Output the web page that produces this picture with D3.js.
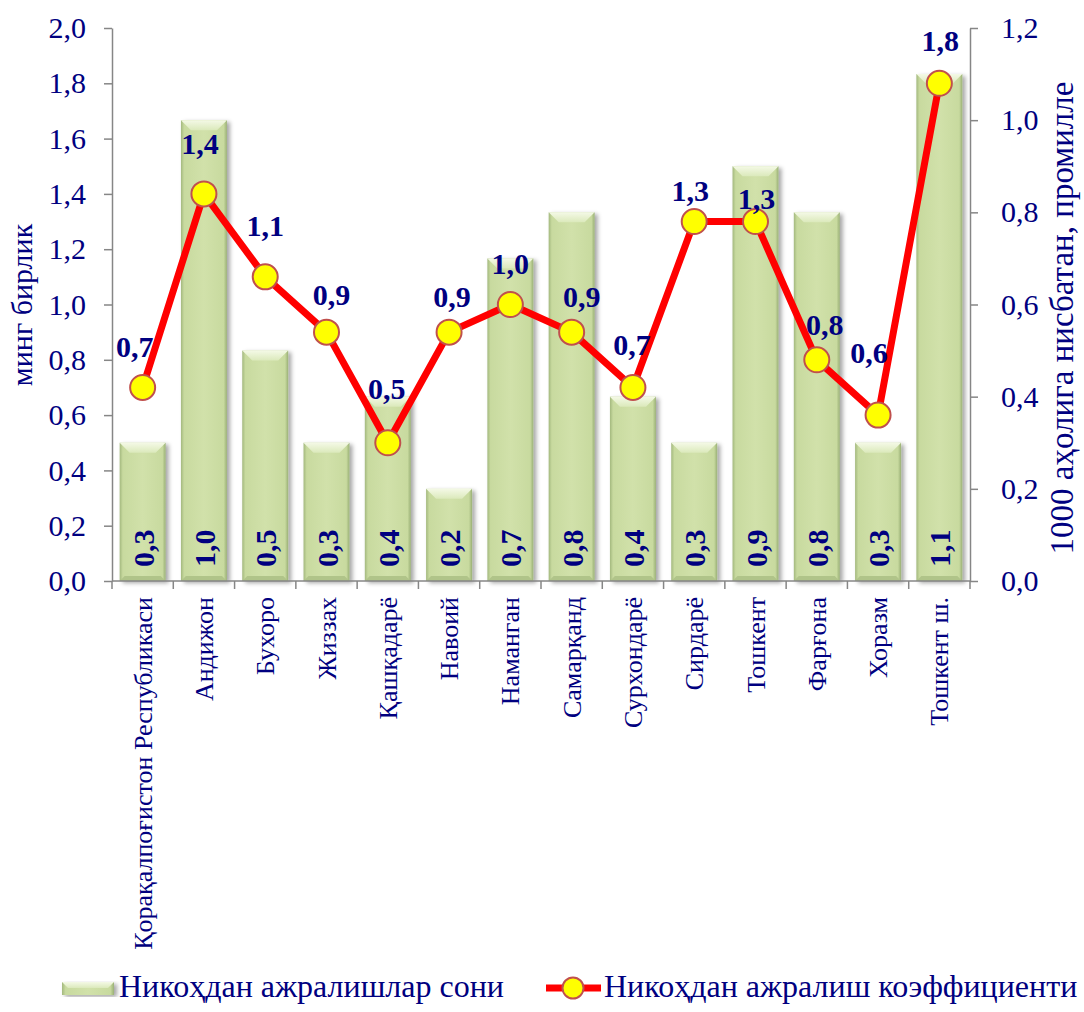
<!DOCTYPE html>
<html>
<head>
<meta charset="utf-8">
<script src="https://cdn.jsdelivr.net/npm/d3@7"></script>
<style>
  body { margin: 0; background: #fff; }
  svg { display: block; font-family: "Liberation Serif", "Times New Roman", serif; }
</style>
</head>
<body>
<svg id="chart" width="1084" height="1012"></svg>
<script>
// DATA
const regions = [
  "Қорақалпоғистон Республикаси", "Андижон", "Бухоро", "Жиззах", "Қашқадарё",
  "Навоий", "Наманган", "Самарқанд", "Сурхондарё", "Сирдарё", "Тошкент",
  "Фарғона", "Хоразм", "Тошкент ш."
];
const divorces = [0.3, 1.0, 0.5, 0.3, 0.4, 0.2, 0.7, 0.8, 0.4, 0.3, 0.9, 0.8, 0.3, 1.1];
const divorceRate = [0.7, 1.4, 1.1, 0.9, 0.5, 0.9, 1.0, 0.9, 0.7, 1.3, 1.3, 0.8, 0.6, 1.8];
const leftTicks = [0, 0.2, 0.4, 0.6, 0.8, 1.0, 1.2, 1.4, 1.6, 1.8, 2.0];
const rightTicks = [0, 0.2, 0.4, 0.6, 0.8, 1.0, 1.2];
const seriesNames = ["Никоҳдан ажралишлар сони", "Никоҳдан ажралиш коэффициенти"];
const leftTitle = "минг бирлик";
const rightTitle = "1000 аҳолига нисбатан, промилле";

// label nudges for the line labels (dx, baseline dy from point)
const lineLabelShift = [[-8, -30], [-4, -40], [0, -41], [5, -27], [-1, -44], [3, -25], [0, -31],
  [10, -25], [-1, -32], [-4, -21], [1, -13], [8, -25], [-9, -52], [1, -32]];

// CANVAS SETUP
const svg = d3.select("#chart");
const margin = { top: 28, right: 114, bottom: 431, left: 112 };
const width = 1084 - margin.left - margin.right,
  height = 1012 - margin.top - margin.bottom;
const navy = "#000080", axisGray = "#868686";
const fmt = d3.formatLocale({ decimal: ",", thousands: " ", grouping: [3], currency: ["", ""] }).format(".1f");

const defs = svg.append("defs");
const grad = defs.append("linearGradient").attr("id", "barGrad").attr("x1", 0).attr("x2", 1);
[[0, "#a3b87e"], [0.07, "#c8da9f"], [0.5, "#d1e1aa"], [0.93, "#c8da9f"], [1, "#9ab076"]]
  .forEach(([o, c]) => grad.append("stop").attr("offset", o).attr("stop-color", c));
const bevel = defs.append("linearGradient").attr("id", "bevelGrad").attr("x1", 0).attr("x2", 0).attr("y1", 0).attr("y2", 1);
[[0, "#f4f9e6"], [1, "#dbe9bb"]].forEach(([o, c]) => bevel.append("stop").attr("offset", o).attr("stop-color", c));
const shadow = defs.append("filter").attr("id", "shadow").attr("x", "-20%").attr("y", "-5%").attr("width", "150%").attr("height", "115%");
shadow.append("feDropShadow").attr("dx", 3).attr("dy", 2).attr("stdDeviation", 2)
  .attr("flood-color", "#000").attr("flood-opacity", 0.35);

const g = svg.append("g").attr("transform", `translate(${margin.left},${margin.top})`);

const x = d3.scaleBand().domain(regions).range([0, width]).paddingInner(0.25).paddingOuter(0.125);
const yLeft = d3.scaleLinear().domain([0, 2.0]).range([height, 0]);
const yRight = d3.scaleLinear().domain([0, 1.2]).range([height, 0]);

// AXES
const gy = g.append("g")
  .call(d3.axisLeft(yLeft).tickValues(leftTicks).tickFormat(fmt).tickSize(8).tickSizeOuter(0).tickPadding(18));
const gy2 = g.append("g").attr("transform", `translate(${width},0)`)
  .call(d3.axisRight(yRight).tickValues(rightTicks).tickFormat(fmt).tickSize(8).tickSizeOuter(0).tickPadding(23));
[gy, gy2].forEach((a) => {
  a.attr("font-family", null);
  a.select(".domain").attr("stroke", axisGray).attr("stroke-width", 1.5);
  a.selectAll(".tick line").attr("stroke", axisGray).attr("stroke-width", 1.5);
  a.selectAll(".tick text").attr("fill", navy).style("font-size", "30px");
});

// BARS
const bars = g.append("g").selectAll("g").data(regions).join("g")
  .attr("filter", "url(#shadow)");
bars.append("rect")
  .attr("x", (d) => x(d))
  .attr("y", (d, i) => yRight(divorces[i]))
  .attr("width", x.bandwidth())
  .attr("height", (d, i) => height - yRight(divorces[i]))
  .attr("fill", "url(#barGrad)");
bars.append("path")
  .attr("d", (d, i) => {
    const x0 = x(d), x1 = x0 + x.bandwidth(), y0 = yRight(divorces[i]), b = 10;
    return `M${x0},${y0}L${x1},${y0}L${x1 - b},${y0 + b}L${x0 + b},${y0 + b}Z`;
  })
  .attr("fill", "url(#bevelGrad)");
bars.append("path")
  .attr("d", (d) => {
    const x0 = x(d), x1 = x0 + x.bandwidth(), b = 5;
    return `M${x0},${height}L${x1},${height}L${x1 - b},${height - b}L${x0 + b},${height - b}Z`;
  })
  .attr("fill", "#b0c489");

// bar value labels
g.append("g").selectAll("text").data(regions).join("text")
  .attr("transform", (d) => `translate(${x(d) + x.bandwidth() / 2 + 11},${height - 14}) rotate(-90)`)
  .attr("fill", navy)
  .style("font-size", "30px")
  .style("font-weight", "bold")
  .text((d, i) => fmt(divorces[i]));

// bottom axis
const gx = g.append("g").attr("transform", `translate(0,${height})`);
gx.append("line").attr("x1", 0).attr("x2", width).attr("stroke", axisGray).attr("stroke-width", 1.5);
const half = (x.step() * x.paddingInner()) / 2;
gx.selectAll(".bt").data(regions.concat([null])).join("line")
  .attr("x1", (d) => (d ? x(d) - half : width))
  .attr("x2", (d) => (d ? x(d) - half : width))
  .attr("y1", 0).attr("y2", 8)
  .attr("stroke", axisGray).attr("stroke-width", 1.5);
gx.selectAll("text").data(regions).join("text")
  .attr("transform", (d) => `translate(${x(d) + x.bandwidth() / 2 + 9},16) rotate(-90)`)
  .attr("text-anchor", "end")
  .attr("fill", navy)
  .style("font-size", "26px")
  .text((d) => d);

// LINE
const line = d3.line()
  .x((d, i) => x(regions[i]) + x.bandwidth() / 2)
  .y((d) => yLeft(d));
g.append("path").datum(divorceRate)
  .attr("d", line)
  .attr("fill", "none")
  .attr("stroke", "#ff0000")
  .attr("stroke-width", 7)
  .attr("stroke-linejoin", "round");
g.append("g").selectAll("circle").data(divorceRate).join("circle")
  .attr("cx", (d, i) => x(regions[i]) + x.bandwidth() / 2)
  .attr("cy", (d) => yLeft(d))
  .attr("r", 12.5)
  .attr("fill", "#ffff00")
  .attr("stroke", "#c0504d")
  .attr("stroke-width", 2);
g.append("g").selectAll("text").data(divorceRate).join("text")
  .attr("x", (d, i) => x(regions[i]) + x.bandwidth() / 2 + lineLabelShift[i][0])
  .attr("y", (d, i) => yLeft(d) + lineLabelShift[i][1])
  .attr("text-anchor", "middle")
  .attr("fill", navy)
  .style("font-size", "30px")
  .style("font-weight", "bold")
  .text((d) => fmt(d));

// AXIS TITLES
svg.append("text")
  .attr("transform", `translate(32,305) rotate(-90)`)
  .attr("text-anchor", "middle").attr("fill", navy).style("font-size", "30px")
  .text(leftTitle);
svg.append("text")
  .attr("transform", `translate(1073,318) rotate(-90)`)
  .attr("text-anchor", "middle").attr("fill", navy).style("font-size", "33px")
  .text(rightTitle);

// LEGEND
const lg = svg.append("g").attr("transform", "translate(0,988)");
lg.append("rect").attr("x", 62).attr("y", -6).attr("width", 52).attr("height", 13)
  .attr("fill", "url(#barGrad)").attr("filter", "url(#shadow)");
lg.append("path").attr("d", "M62,-6L114,-6L108,0L68,0Z").attr("fill", "url(#bevelGrad)");
lg.append("text").attr("x", 119).attr("y", 9).attr("fill", navy).style("font-size", "32px").text(seriesNames[0]);
lg.append("line").attr("x1", 546).attr("x2", 601).attr("stroke", "#ff0000").attr("stroke-width", 7);
lg.append("circle").attr("cx", 573).attr("cy", 0).attr("r", 10.5)
  .attr("fill", "#ffff00").attr("stroke", "#c0504d").attr("stroke-width", 2);
lg.append("text").attr("x", 604).attr("y", 9).attr("fill", navy).style("font-size", "32px").text(seriesNames[1]);
</script>
</body>
</html>
